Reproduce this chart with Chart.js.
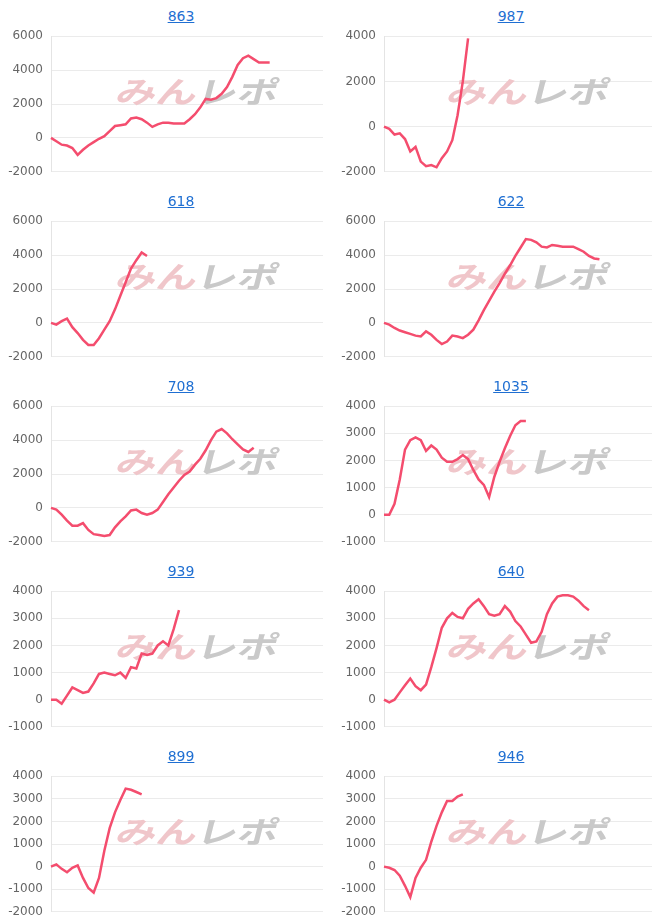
<!DOCTYPE html>
<html>
<head>
<meta charset="utf-8">
<script src="https://cdn.jsdelivr.net/npm/chart.js@4"></script>
<style>
  body { margin: 0; background: #fff; width: 666px; height: 923px; overflow: hidden; }
  .panel { position: absolute; width: 333px; height: 185px; }
  .panel a { position: absolute; top: 8px; width: 80px; margin-left: -40px; text-align: center;
    font: 14px 'DejaVu Sans', sans-serif; color: #1f6fd2; text-decoration: underline; }
  .panel canvas { position: absolute; left: 0; top: 21px; }
</style>
</head>
<body>
<div id="grid"></div>
<script>
// --- data ---
const titles = ["863", "987", "618", "622", "708", "1035", "939", "640", "899", "946"];

const s863 = [0, -200, -400, -450, -600, -1000, -700, -450, -250, -50, 100, 400, 700, 750, 800, 1150, 1200, 1100, 900, 650,
  800, 900, 900, 850, 850, 850, 1100, 1400, 1800, 2300, 2250, 2350, 2600, 3000, 3600, 4300, 4700, 4850, 4650, 4450, 4450, 4450];
const s987 = [0, -100, -350, -300, -550, -1100, -900, -1550, -1750, -1700, -1800, -1400, -1100, -600, 500, 2000, 3900];
const s618 = [0, -100, 100, 250, -250, -600, -1000, -1300, -1300, -900, -400, 100, 800, 1600, 2400, 3200, 3700, 4150, 3950];
const s622 = [0, -100, -300, -450, -550, -650, -750, -800, -500, -700, -1000, -1250, -1100, -750, -800, -900, -700, -400, 150, 750,
  1300, 1850, 2350, 2900, 3400, 3950, 4450, 4950, 4900, 4750, 4500, 4450, 4600, 4550, 4500, 4500, 4500, 4350, 4200, 3950, 3800, 3750];
const s708 = [0, -100, -400, -750, -1050, -1050, -900, -1300, -1550, -1600, -1650, -1600, -1150, -800, -500, -150, -100, -300, -400, -300,
  -100, 350, 800, 1200, 1600, 1950, 2150, 2550, 2900, 3400, 4000, 4500, 4650, 4400, 4050, 3750, 3450, 3300, 3550];
const s1035 = [0, 0, 400, 1300, 2400, 2750, 2850, 2750, 2350, 2550, 2400, 2100, 1950, 1950, 2050, 2200, 2050, 1650, 1300, 1100,
  650, 1400, 1950, 2450, 2900, 3300, 3450, 3450];
const s939 = [0, 0, -150, 150, 450, 350, 250, 300, 600, 950, 1000, 950, 900, 1000, 800, 1200, 1150, 1700, 1650, 1700,
  2000, 2150, 2000, 2600, 3300];
const s640 = [0, -100, 0, 270, 530, 780, 500, 350, 560, 1200, 1900, 2650, 3000, 3200, 3050, 3000, 3350, 3550, 3700, 3450,
  3150, 3100, 3150, 3450, 3250, 2900, 2700, 2400, 2100, 2150, 2500, 3150, 3550, 3800, 3850, 3850, 3800, 3650, 3450, 3300];
const s899 = [0, 100, -100, -250, -50, 50, -500, -950, -1150, -500, 700, 1700, 2400, 2950, 3450, 3400, 3300, 3200];
const s946 = [0, -50, -150, -400, -850, -1350, -500, -50, 300, 1100, 1800, 2400, 2900, 2900, 3100, 3200];

const series = [s863, s987, s618, s622, s708, s1035, s939, s640, s899, s946];
const yMin = [-2000, -2000, -2000, -2000, -2000, -1000, -1000, -1000, -2000, -2000];
const yMax = [6000, 4000, 6000, 6000, 6000, 4000, 4000, 4000, 4000, 4000];
const yStep = [2000, 2000, 2000, 2000, 2000, 1000, 1000, 1000, 1000, 1000];
const xCount = 52;
const xLabels = Array.from({ length: xCount }, (_, i) => i);

Chart.defaults.font.family = "'DejaVu Sans', sans-serif";
Chart.defaults.font.size = 12;
Chart.defaults.color = "#666";

// faint みんレポ logo behind the line
const watermark = {
  id: "watermark",
  beforeDatasetsDraw(chart) {
    const { ctx, chartArea: a } = chart;
    const cx = (a.left + a.right) / 2 + 11;
    const cy = (a.top + a.bottom) / 2 - 12;
    ctx.save();
    ctx.translate(cx, cy);
    ctx.transform(1.35, 0, -0.25, 1, 0, 0);
    ctx.font = "bold 30px 'Noto Sans CJK JP'";
    ctx.textBaseline = "middle";
    const w1 = ctx.measureText("みん").width;
    const w2 = ctx.measureText("レポ").width;
    const x = -(w1 + w2) / 2;
    ctx.fillStyle = "#f0c6ca";
    ctx.fillText("みん", x, 0);
    ctx.fillStyle = "#c9c9c9";
    ctx.fillText("レポ", x + w1, 0);
    ctx.restore();
  }
};

const grid = document.getElementById("grid");

series.forEach((data, i) => {
  const col = i % 2, row = Math.floor(i / 2);
  const panel = document.createElement("div");
  panel.className = "panel";
  panel.style.left = col * 333 + "px";
  panel.style.top = row * 185 + "px";

  const a = document.createElement("a");
  a.href = "#";
  a.textContent = titles[i];
  a.style.left = (col ? 178 : 181) + "px";
  panel.appendChild(a);

  const canvas = document.createElement("canvas");
  canvas.width = 333;
  canvas.height = 166;
  canvas.style.width = "333px";
  canvas.style.height = "166px";
  panel.appendChild(canvas);
  grid.appendChild(panel);

  new Chart(canvas, {
    type: "line",
    data: {
      labels: xLabels,
      datasets: [{
        data,
        borderColor: "#f44d6e",
        borderWidth: 2.5,
        pointRadius: 0,
        tension: 0,
        fill: false
      }]
    },
    options: {
      responsive: false,
      animation: false,
      layout: { padding: { top: 0, bottom: 0, right: col ? 14 : 10 } },
      plugins: { legend: { display: false }, tooltip: { enabled: false } },
      scales: {
        x: { display: false },
        y: {
          min: yMin[i],
          max: yMax[i],
          ticks: { stepSize: yStep[i], padding: 8, callback: v => String(v) },
          grid: { color: "#ebebeb", drawTicks: false },
          border: { color: "#e4e4e4" },
          afterFit: s => { s.width = 51; }
        }
      }
    },
    plugins: [watermark]
  });
});
</script>
</body>
</html>
